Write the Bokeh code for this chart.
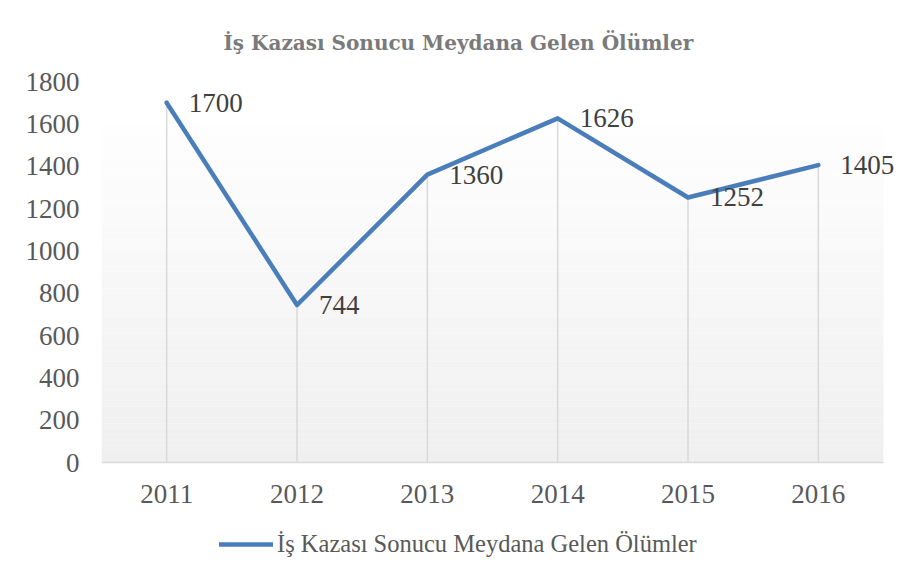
import numpy as np
from bokeh.plotting import figure
from bokeh.models import (ColumnDataSource, FixedTicker, BoxAnnotation, Legend,
                          LegendItem, LabelSet, Range1d)
from bokeh.embed import file_html
from bokeh.resources import INLINE

years = ["2011", "2012", "2013", "2014", "2015", "2016"]
deaths = [1700, 744, 1360, 1626, 1252, 1405]
y_ticks = [0, 200, 400, 600, 800, 1000, 1200, 1400, 1600, 1800]
series_name = "İş Kazası Sonucu Meydana Gelen Ölümler"
title_text = "İş Kazası Sonucu Meydana Gelen Ölümler"

xs = list(range(len(years)))
src = ColumnDataSource(dict(x=xs, y=deaths, zero=[0] * len(xs),
                            lab=[str(v) for v in deaths]))

FONT = "Liberation Serif"
TXT = "#595959"

# layout geometry (pixels)
FL, FW, FT, FH = 101, 800, 81, 497      # frame left/width/top/height
AXIS_Y = 462                            # pixel row of value 0
CAT_W = 782 / len(years)                # pixel width of one category band
units_per_px = 1800 / (AXIS_Y - FT)
x_start = -0.5
x_end = x_start + FW / CAT_W
y_start = -(FT + FH - AXIS_Y) * units_per_px

p = figure(frame_width=FW, frame_height=FH, output_backend="svg",
           toolbar_location=None,
           x_range=Range1d(x_start, x_end), y_range=Range1d(y_start, 1800),
           min_border_left=FL, min_border_right=909 - FL - FW, min_border_top=FT,
           min_border_bottom=584 - FT - FH, background_fill_color="white",
           border_fill_color="white", outline_line_color=None)

# gradient plot area background (decoration)
top_val = 1590
n = 60
edges = np.linspace(0, top_val, n + 1)
for i in range(n):
    t = i / (n - 1)  # 0 bottom -> 1 top
    c = int(round(239 + (254 - 239) * t))
    p.add_layout(BoxAnnotation(bottom=edges[i], top=edges[i + 1],
                               left=-0.5, right=len(years) - 0.5,
                               fill_color=f"#{c:02x}{c:02x}{c:02x}", fill_alpha=1,
                               line_color=None, level="underlay"))

p.title.text = title_text
p.title.align = "left"
p.title.offset = 122
p.title.text_font = "DejaVu Serif"
p.title.text_font_style = "bold"
p.title.text_font_size = "20px"
p.title.text_color = "#7a7a7a"
p.title.standoff = 51
p.title.vertical_align = "middle"

p.segment(x0="x", y0="zero", x1="x", y1="y", source=src, line_color="#d9d9d9",
          line_width=1.5)
r = p.line("x", "y", source=src, line_color="#4a7ebb", line_width=4.5,
           line_join="round", line_cap="round")

p.add_layout(LabelSet(x="x", y="y", text="lab", source=src, x_offset=22, y_offset=0,
                      text_baseline="middle", text_align="left",
                      text_font=FONT, text_font_size="27px", text_color="#404040"))

p.xgrid.visible = False
p.ygrid.visible = False

p.xaxis.fixed_location = 0
p.xaxis.bounds = (-0.5, len(years) - 0.5)
p.xaxis.ticker = FixedTicker(ticks=xs)
p.xaxis.major_label_overrides = {i: y for i, y in enumerate(years)}
p.xaxis.axis_line_color = "#d9d9d9"
p.xaxis.axis_line_width = 1.5
p.xaxis.major_tick_line_color = None
p.xaxis.minor_tick_line_color = None
p.xaxis.major_label_standoff = 16
p.xaxis.major_label_text_font = FONT
p.xaxis.major_label_text_font_size = "27px"
p.xaxis.major_label_text_color = TXT

p.yaxis.ticker = FixedTicker(ticks=y_ticks)
p.yaxis.axis_line_color = None
p.yaxis.major_tick_line_color = None
p.yaxis.minor_tick_line_color = None
p.yaxis.major_label_standoff = 16
p.yaxis.major_label_text_font = FONT
p.yaxis.major_label_text_font_size = "27px"
p.yaxis.major_label_text_color = TXT

legend = Legend(items=[LegendItem(label=series_name, renderers=[r])],
                location=(118, 20), orientation="horizontal",
                label_text_font=FONT, label_text_font_size="24.5px",
                label_text_color=TXT, glyph_width=54, glyph_height=20,
                label_standoff=4, padding=5, margin=0, border_line_color=None,
                background_fill_alpha=0)
p.add_layout(legend, "center")

open("out.html", "w").write(file_html(p, INLINE))
